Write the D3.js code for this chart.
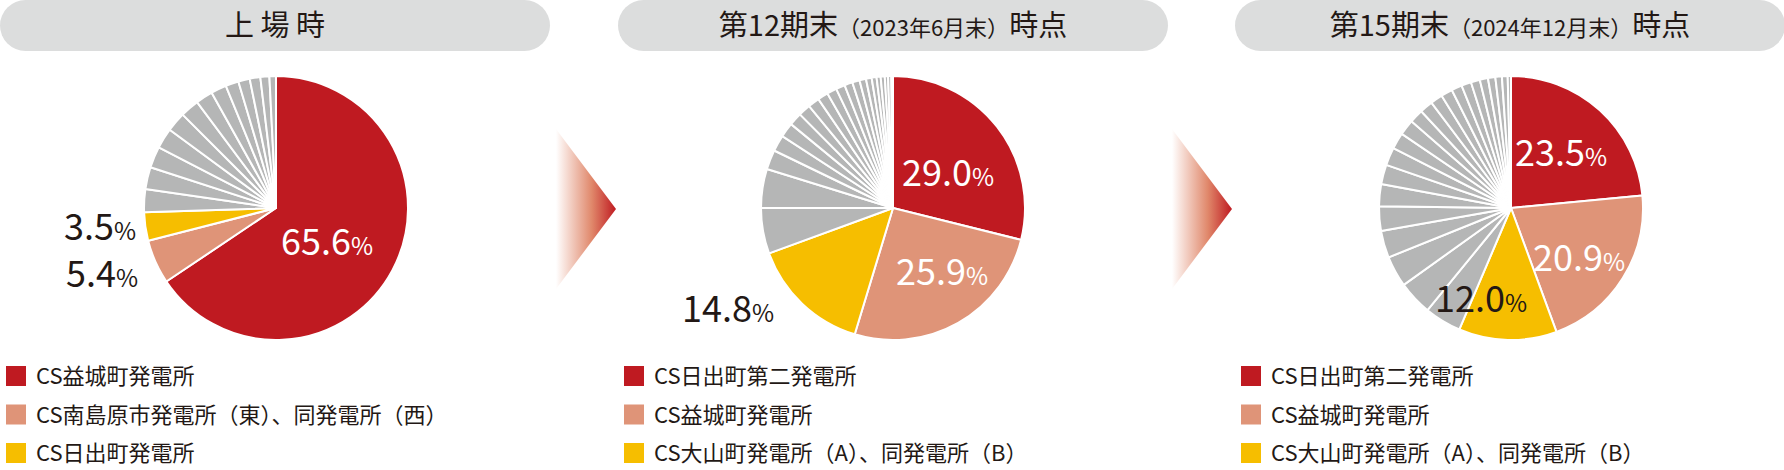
<!DOCTYPE html>
<html><head><meta charset="utf-8">
<script src="https://cdn.jsdelivr.net/npm/d3@7"></script>
<style>body{margin:0;background:#fff}text{font-family:"Noto Sans CJK JP","Noto Sans",sans-serif}</style>
</head><body><div id="chart"></div>
<script>
// slice values (main three first, then the grey remainder, clockwise from 12 o'clock)
var main1 = [65.6, 5.4, 3.5];
var grey1 = [2.8, 2.7, 2.6, 2.5, 2.4, 2.3, 2.1, 1.9, 1.6, 1.4, 1.3, 1.1, 0.8];
var main2 = [29.0, 25.9, 14.8];
var grey2 = [5.6, 4.8, 2.4, 2.0, 1.8, 1.6, 1.5, 1.4, 1.3, 1.2, 1.1, 1.0, 0.9, 0.8, 0.7, 0.6, 0.5, 0.5, 0.4, 0.4, 0.2];
var main3 = [23.5, 20.9, 12.0];
var grey3 = [4.5, 4.2, 3.8, 3.3, 3.0, 2.7, 2.4, 2.2, 2.0, 1.9, 1.7, 1.6, 1.5, 1.4, 1.3, 1.2, 1.1, 1.0, 0.9, 0.8, 0.7, 0.4];
var titles = [["上 場 時", ""], ["第12期末", "（2023年6月末）", "時点"], ["第15期末", "（2024年12月末）", "時点"]];
var legend1 = ["CS益城町発電所", "CS南島原市発電所（東）、同発電所（西）", "CS日出町発電所"];
var legend2 = ["CS日出町第二発電所", "CS益城町発電所", "CS大山町発電所（A）、同発電所（B）"];
var legend3 = ["CS日出町第二発電所", "CS益城町発電所", "CS大山町発電所（A）、同発電所（B）"];
var colors = ["#bf1a21", "#df9478", "#f6be00"];
var grey = "#b5b6b6";

var W = 1784, H = 470;
var svg = d3.select("#chart").append("svg").attr("width", W).attr("height", H);

var defs = svg.append("defs");
var grad = defs.append("linearGradient").attr("id", "arr");
grad.append("stop").attr("offset", "0%").attr("stop-color", "#fff");
grad.append("stop").attr("offset", "60%").attr("stop-color", "#e0876a");
grad.append("stop").attr("offset", "100%").attr("stop-color", "#bf1a21");

var panels = [
  {x0: 0, cx: 276, main: main1, grey: grey1, legend: legend1, labels: [
    {t: "65.6", x: 327, y: 255, c: "#fff"}, {t: "5.4", x: 102, y: 287, c: "#231815"}, {t: "3.5", x: 100, y: 240, c: "#231815"}]},
  {x0: 618, cx: 893, main: main2, grey: grey2, legend: legend2, labels: [
    {t: "29.0", x: 948, y: 186, c: "#fff"}, {t: "25.9", x: 942, y: 285, c: "#fff"}, {t: "14.8", x: 728, y: 322, c: "#231815"}]},
  {x0: 1235, cx: 1511, main: main3, grey: grey3, legend: legend3, labels: [
    {t: "23.5", x: 1561, y: 166, c: "#fff"}, {t: "20.9", x: 1579, y: 271, c: "#fff"}, {t: "12.0", x: 1481, y: 312, c: "#231815"}]}
];

var cy = 208, r = 132;
var pie = d3.pie().sort(null).value(function(d) { return d.v; });
var arc = d3.arc().innerRadius(0).outerRadius(r);

panels.forEach(function(p, i) {
  svg.append("rect").attr("x", p.x0).attr("y", 0).attr("width", 550).attr("height", 51)
    .attr("rx", 25.5).attr("fill", "#dcdddd");
  var t = svg.append("text").attr("x", p.x0 + 275).attr("y", 36).attr("text-anchor", "middle")
    .attr("font-size", 29).attr("fill", "#231815");
  t.append("tspan").text(titles[i][0]);
  if (titles[i].length > 2) {
    t.append("tspan").attr("font-size", 22).text(titles[i][1]);
    t.append("tspan").text(titles[i][2]);
  }

  var data = p.main.map(function(v, k) { return {v: v, c: colors[k]}; })
    .concat(p.grey.map(function(v) { return {v: v, c: grey}; }));
  var g = svg.append("g").attr("transform", "translate(" + p.cx + "," + cy + ")");
  g.selectAll("path").data(pie(data)).enter().append("path")
    .attr("d", arc).attr("fill", function(d) { return d.data.c; })
    .attr("stroke", "#fff").attr("stroke-width", 2).attr("stroke-linejoin", "round");

  p.labels.forEach(function(l) {
    var tx = svg.append("text").attr("x", l.x).attr("y", l.y).attr("text-anchor", "middle")
      .attr("fill", l.c).attr("font-family", "Roboto, 'Noto Sans', sans-serif").attr("font-size", 36);
    tx.append("tspan").text(l.t);
    tx.append("tspan").attr("font-size", 24).text("%");
  });

  p.legend.forEach(function(s, k) {
    var y = 376 + k * 38.5;
    svg.append("rect").attr("x", p.x0 + 6).attr("y", y - 10).attr("width", 20).attr("height", 20).attr("fill", colors[k]);
    svg.append("text").attr("x", p.x0 + 36).attr("y", y + 8).attr("font-size", 22).attr("fill", "#231815").text(s);
  });
});

// arrows between panels
[556, 1172].forEach(function(ax) {
  svg.append("path").attr("d", "M" + ax + ",129 L" + (ax + 60) + ",209 L" + ax + ",289 Z").attr("fill", "url(#arr)");
});
</script></body></html>
